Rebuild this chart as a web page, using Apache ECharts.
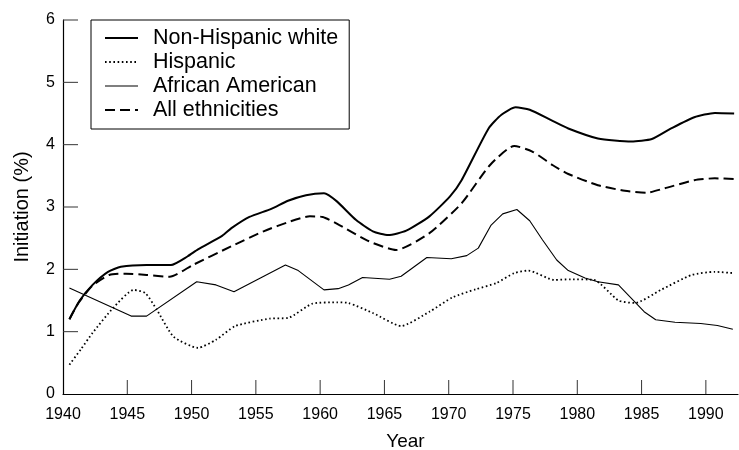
<!DOCTYPE html>
<html>
<head>
<meta charset="utf-8">
<script src="https://cdn.jsdelivr.net/npm/echarts@6/dist/echarts.min.js"></script>
<style>
html,body{margin:0;padding:0;background:#fff;}
#chart{width:739px;height:450px;}
</style>
</head>
<body>
<div id="chart"></div>
<script>
// ---- data (year, initiation %) ----
const seriesNames = ['Non-Hispanic white', 'Hispanic', 'African American', 'All ethnicities'];

const nonHispanicWhite = [
  [1940.5,1.20],[1941.3,1.50],[1942.3,1.75],[1943.5,1.96],[1944.5,2.04],[1946.5,2.07],
  [1948.4,2.07],[1949.7,2.21],[1950.5,2.32],[1952.4,2.54],[1953.1,2.66],[1954.5,2.84],
  [1956.2,2.97],[1957.5,3.10],[1958.9,3.19],[1960.3,3.22],[1961.3,3.09],[1962.8,2.79],
  [1964.1,2.61],[1965.3,2.55],[1966.7,2.62],[1968.5,2.85],[1970.1,3.17],
  [1971.0,3.43],[1973.1,4.26],[1974.1,4.48],[1975.2,4.60],[1976.3,4.56],[1978.0,4.39],
  [1979.3,4.26],[1981.6,4.10],[1984.2,4.05],[1985.8,4.09],[1987.3,4.26],[1989.1,4.44],
  [1990.7,4.51],[1992.2,4.50]
];

const hispanic = [
  [1940.5,0.47],[1941.4,0.72],[1942.3,0.98],[1943.9,1.38],[1945.5,1.67],[1946.4,1.62],
  [1947.3,1.35],[1948.6,0.92],[1950.5,0.74],[1951.9,0.87],[1953.4,1.09],
  [1956.1,1.21],[1957.5,1.22],[1959.4,1.45],[1961.3,1.47],[1962.2,1.46],[1964.1,1.30],
  [1966.3,1.09],[1968.5,1.32],[1970.3,1.55],[1972.1,1.68],[1973.7,1.78],[1975.1,1.94],
  [1976.2,1.98],[1978.2,1.83],[1979.5,1.84],[1981.3,1.83],[1983.2,1.50],[1984.5,1.46],
  [1986.5,1.67],[1988.9,1.91],[1990.7,1.96],[1992.1,1.94]
];

const africanAmerican = [
  [1940.5,1.70],[1945.3,1.25],[1946.5,1.25],[1950.4,1.80],[1951.9,1.75],[1953.3,1.64],
  [1957.3,2.07],[1958.3,1.98],[1960.3,1.67],[1961.4,1.69],[1962.2,1.75],[1963.3,1.87],
  [1965.4,1.84],[1966.3,1.89],[1968.3,2.19],[1970.2,2.17],[1971.4,2.22],[1972.3,2.34],
  [1973.3,2.71],[1974.2,2.89],[1975.3,2.96],[1976.3,2.78],[1977.3,2.47],[1978.4,2.15],
  [1979.3,1.98],[1980.6,1.86],[1981.6,1.80],[1983.2,1.75],[1985.2,1.32],[1986.1,1.19],
  [1987.6,1.15],[1989.6,1.13],[1990.9,1.10],[1992.1,1.04]
];

const allEthnicities = [
  [1940.5,1.20],[1941.2,1.46],[1942.3,1.74],[1943.6,1.91],[1944.9,1.93],[1946.5,1.91],
  [1948.3,1.88],[1950.1,2.07],[1953.1,2.37],[1955.6,2.61],[1957.7,2.77],[1959.2,2.85],
  [1960.2,2.84],[1961.5,2.71],[1963.8,2.45],[1965.9,2.31],[1968.5,2.58],
  [1971.0,3.06],[1973.2,3.67],[1975.1,3.98],[1976.5,3.89],[1978.1,3.67],[1979.3,3.53],
  [1981.6,3.35],[1983.7,3.26],[1985.4,3.23],[1986.8,3.30],[1989.1,3.43],[1990.7,3.46],
  [1992.2,3.45]
];

const xLabelYears = [1940, 1945, 1950, 1955, 1960, 1965, 1970, 1975, 1980, 1985, 1990];
const xTickYears = [1945, 1950, 1955, 1960, 1965, 1970, 1975, 1980, 1985, 1990];
const yTickValues = [1, 2, 3, 4, 5, 6];
const seriesWidths = [2, 1.8, 1.1, 2];

// ---- chart ----
const FONT = "'Liberation Sans', Arial, Helvetica, sans-serif";
const X_MIN = 1940, X_MAX = 1992.5, Y_MIN = 0, Y_MAX = 6;
const chart = echarts.init(document.getElementById('chart'), null, {renderer: 'canvas'});

// one tick list for both axes: [x value, y value, kind] (kind 0 = x tick, 1 = y tick)
const tickItems = xTickYears.map(y => [y, Y_MIN, 0]).concat(yTickValues.map(v => [X_MIN, v, 1]));

// inward tick marks, positioned through the axes' own scales (drawn as thin filled rects)
function tickRenderer(params, api) {
  const p = api.coord([api.value(0), api.value(1)]);
  const kind = api.value(2);
  const shape = kind === 0
    ? {x: p[0] - 0.5, y: p[1] - 14, width: 1, height: 14}
    : {x: p[0], y: p[1] - 0.5, width: 15, height: 1};
  return {type: 'rect', shape: shape, style: {fill: '#333', stroke: null}, silent: true};
}

chart.setOption({
  animation: false,
  backgroundColor: '#fff',
  textStyle: {fontFamily: FONT, color: '#000'},
  grid: {left: 63, right: 1, top: 20, bottom: 56, containLabel: false, outerBoundsMode: 'none'},
  legend: {
    data: seriesNames.map((n, i) => ({name: n, lineStyle: {width: seriesWidths[i]}})),
    orient: 'vertical',
    left: 91,
    top: 20,
    padding: [6, 11, 7, 13],
    itemWidth: 33,
    itemHeight: 14,
    itemGap: 0,
    selectedMode: false,
    borderColor: '#000',
    borderWidth: 1,
    backgroundColor: '#fff',
    z: 10,
    itemStyle: {opacity: 0, color: 'rgba(0,0,0,0)', borderWidth: 0},
    textStyle: {fontFamily: FONT, fontSize: 21.5, lineHeight: 24, color: '#000', padding: [0, 0, 0, 10]}
  },
  xAxis: {
    type: 'value',
    min: X_MIN,
    max: X_MAX,
    interval: 5,
    name: 'Year',
    nameLocation: 'middle',
    nameGap: 38,
    nameTextStyle: {fontFamily: FONT, fontSize: 19, color: '#000', padding: [0, 0, 0, 10]},
    splitLine: {show: false},
    axisLine: {show: true, onZero: false, lineStyle: {color: '#000', width: 1.2}},
    axisTick: {show: false},
    axisLabel: {
      customValues: xLabelYears,
      formatter: v => String(v),
      fontFamily: FONT, fontSize: 16, color: '#000', margin: 13
    }
  },
  yAxis: {
    type: 'value',
    min: Y_MIN,
    max: Y_MAX,
    interval: 1,
    name: 'Initiation (%)',
    nameLocation: 'middle',
    nameRotate: 90,
    nameGap: 31,
    nameTextStyle: {fontFamily: FONT, fontSize: 20, color: '#000'},
    splitLine: {show: false},
    axisLine: {show: true, onZero: false, lineStyle: {color: '#000', width: 1.2}},
    axisTick: {show: false},
    axisLabel: {fontFamily: FONT, fontSize: 16, color: '#000', margin: 8}
  },
  series: [
    {
      name: seriesNames[0], type: 'line', data: nonHispanicWhite,
      symbol: 'none', smooth: 0.2, color: '#000',
      lineStyle: {color: '#000', width: seriesWidths[0], type: 'solid'}
    },
    {
      name: seriesNames[1], type: 'line', data: hispanic,
      symbol: 'none', smooth: 0.2, color: '#000',
      lineStyle: {color: '#000', width: seriesWidths[1], type: [1.6, 2.6]}
    },
    {
      name: seriesNames[2], type: 'line', data: africanAmerican,
      symbol: 'none', smooth: false, color: '#000',
      lineStyle: {color: '#000', width: seriesWidths[2], type: 'solid'}
    },
    {
      name: seriesNames[3], type: 'line', data: allEthnicities,
      symbol: 'none', smooth: 0.2, color: '#000',
      lineStyle: {color: '#000', width: seriesWidths[3], type: [10, 5]}
    },
    {
      name: 'axisTicks', type: 'custom', silent: true, clip: false, z: 3,
      data: tickItems,
      dimensions: ['x', 'y', 'kind'],
      encode: {x: 0, y: 1},
      renderItem: tickRenderer
    }
  ]
});
</script>
</body>
</html>
